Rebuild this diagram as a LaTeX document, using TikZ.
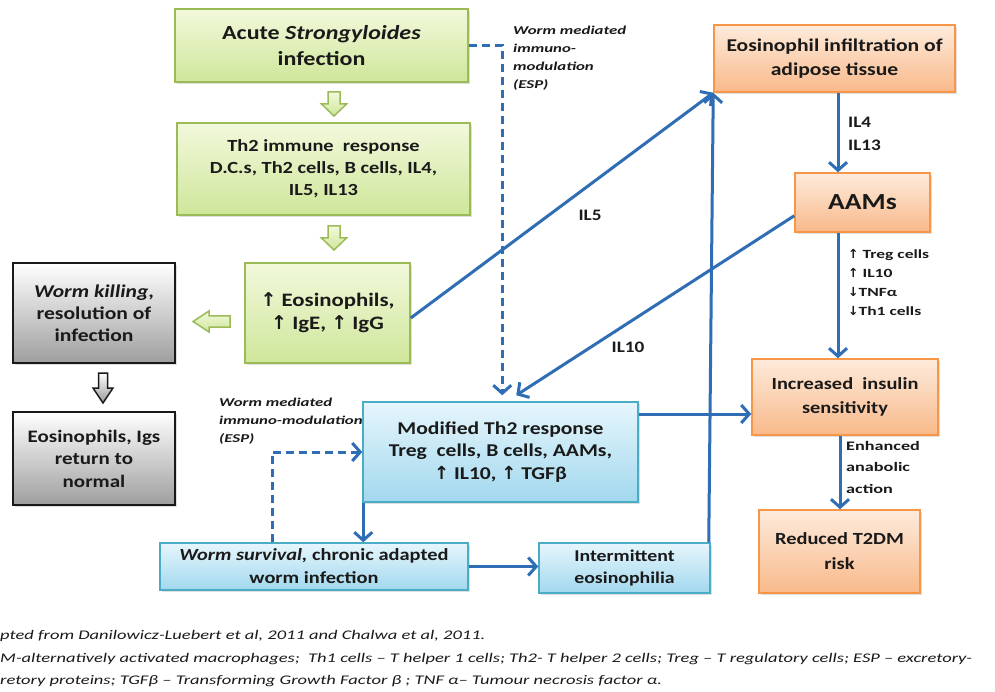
\documentclass[tikz,border=0pt]{standalone}
\usepackage{fontspec}
\setmainfont{Carlito}[FakeStretch=1.2]
\newfontfamily\lblfont{Carlito}[FakeStretch=1.4]
\newfontfamily\symfont{DejaVu Sans}
\usetikzlibrary{arrows.meta,shadows,calc}
\definecolor{gline}{HTML}{9BBB59}
\definecolor{gtop}{HTML}{F2F9DC}
\definecolor{gbot}{HTML}{CFE69A}
\definecolor{bline}{HTML}{4BACC6}
\definecolor{btop}{HTML}{E6F6FC}
\definecolor{bbot}{HTML}{A2D8EE}
\definecolor{oline}{HTML}{F79646}
\definecolor{otop}{HTML}{FDEBDC}
\definecolor{obot}{HTML}{F9B98A}
\definecolor{arrblue}{HTML}{2F6DB5}
\definecolor{txt}{HTML}{1A1A1A}
\newcommand{\uarr}{{\symfont\char"2191}}
\newcommand{\darr}{{\symfont\char"2193}}
\tikzset{
  boxbase/.style={rectangle, align=center, text=txt, inner sep=2pt, font=\bfseries,
     drop shadow={opacity=0.25, shadow xshift=2pt, shadow yshift=-2pt}},
  greenbox/.style={boxbase, draw=gline, line width=1.5pt, top color=gtop, bottom color=gbot},
  graybox/.style={boxbase, draw=black!90, line width=2.5pt, top color=white, bottom color=black!38},
  bluebox/.style={boxbase, draw=bline, line width=1.5pt, top color=btop, bottom color=bbot},
  orangebox/.style={boxbase, draw=oline, line width=1.5pt, top color=otop, bottom color=obot},
  arr/.style={draw=arrblue, line width=3pt, -{Straight Barb[length=8pt,width=18pt]}},
  dasharr/.style={arr, dash pattern=on 8pt off 5pt},
  greenblock/.style={draw=gline, line width=1.5pt, top color=gtop, bottom color=gbot, line join=miter},
  grayblock/.style={draw=black!90, line width=1.5pt, top color=white, bottom color=black!40, line join=miter},
  lbl/.style={text=txt, font=\bfseries\fontsize{16}{20}\selectfont, inner sep=0pt},
  small/.style={text=txt, align=left, inner sep=0pt},
}
\begin{document}
\begin{tikzpicture}[x=1pt,y=-1pt]
\useasboundingbox (0,0) rectangle (995,692);
\fill[white] (0,0) rectangle (995,692);

% green boxes
\node[greenbox, minimum width=293pt, minimum height=73pt, font=\bfseries\fontsize{20}{26}\selectfont] (acute) at (321.5,45.5) {Acute \textit{Strongyloides}\\infection};
\node[greenbox, minimum width=293pt, minimum height=92pt, font=\bfseries\fontsize{17}{22}\selectfont] (th2) at (323.5,169) {Th2 immune\ \ response\\D.C.s, Th2 cells, B cells, IL4,\\IL5, IL13};
\node[greenbox, minimum width=165pt, minimum height=100pt, font=\bfseries\fontsize{19}{23}\selectfont] (eos) at (327.5,313) {\uarr{} Eosinophils,\\\uarr{} IgE, \uarr{} IgG};

% gray boxes
\node[graybox, minimum width=162pt, minimum height=100pt, font=\bfseries\fontsize{18}{22}\selectfont] (kill) at (94,313) {\textit{Worm killing},\\resolution of\\infection};
\node[graybox, minimum width=162pt, minimum height=93pt, font=\bfseries\fontsize{17.5}{22.5}\selectfont] (norm) at (94,458.5) {Eosinophils, Igs\\return to\\normal};

% blue boxes
\node[bluebox, minimum width=275pt, minimum height=100pt, font=\bfseries\fontsize{18}{22.5}\selectfont] (mod) at (500.5,452) {Modified Th2 response\\Treg\ \ cells, B cells, AAMs,\\\uarr{} IL10, \uarr{} TGFβ};
\node[bluebox, minimum width=308pt, minimum height=47pt, font=\bfseries\fontsize{17}{23}\selectfont] (surv) at (314,566.5) {\textit{Worm survival,} chronic adapted\\worm infection};
\node[bluebox, minimum width=171pt, minimum height=50pt, font=\bfseries\fontsize{16.5}{22}\selectfont] (inter) at (624.5,568) {Intermittent\\eosinophilia};

% orange boxes
\node[orangebox, minimum width=241pt, minimum height=67pt, font=\bfseries\fontsize{18}{24}\selectfont] (infil) at (834.5,58.5) {Eosinophil infiltration of\\adipose tissue};
\node[orangebox, minimum width=135pt, minimum height=59pt, font=\bfseries\fontsize{23}{26}\selectfont] (aams) at (862.5,202.5) {AAMs};
\node[orangebox, minimum width=186pt, minimum height=76pt, font=\bfseries\fontsize{17}{24}\selectfont] (ins) at (845,397) {Increased\ \ insulin\\sensitivity};
\node[orangebox, minimum width=161pt, minimum height=83pt, font=\bfseries\fontsize{17}{25}\selectfont] (t2dm) at (839.5,551.5) {Reduced T2DM\\risk};

% block arrows (drawn shapes)
\path[greenblock] (328,92) -- (340,92) -- (340,104) -- (346.5,104) -- (334,116) -- (321.5,104) -- (328,104) -- cycle;
\path[greenblock] (328,226) -- (340,226) -- (340,238) -- (346.5,238) -- (334,250) -- (321.5,238) -- (328,238) -- cycle;
\path[greenblock] (230,316) -- (209,316) -- (209,311) -- (193,321.5) -- (209,332) -- (209,327) -- (230,327) -- cycle;
\path[grayblock] (98.5,373) -- (107.5,373) -- (107.5,388) -- (113,388) -- (103,403) -- (93,388) -- (98.5,388) -- cycle;

% helper coordinates
\coordinate (xA) at (838,0);
\coordinate (xD) at (840,0);
\coordinate (xC) at (272,0);
\coordinate (yB) at (0,414);

% connectors
\draw[arr] (infil.south -| xA) -- (aams.north -| xA);
\draw[arr] ($(eos.east)+(0,5)$) -- (infil.south west);
\draw[arr] ($(inter.north east)+(-2,0)$) -- (infil.south west);
\draw[arr] ($(aams.south west)+(0,-17)$) -- ($(mod.north west)+(154,-6)$);
\draw[dasharr] (acute.east) -| ($(mod.north west)+(140,-6)$);
\draw[arr] (mod.east |- yB) -- (ins.west |- yB);
\draw[arr] ($(mod.south west)+(1,0)$) -- ($(surv.north -| mod.south west)+(1,0)$);
\draw[dasharr] (surv.north -| xC) |- (mod.west);
\draw[arr] (surv.east) -- (inter.west |- surv.east);
\draw[arr] (aams.south -| xA) -- (ins.north -| xA);
\draw[arr] (ins.south -| xD) -- (t2dm.north -| xD);

% labels
\node[lbl, anchor=west] (il4) at (848,122) {IL4};
\node[lbl, anchor=west] (il13) at (848,145) {IL13};
\node[lbl] (il5) at (590,215) {IL5};
\node[lbl] (il10) at (628,347) {IL10};
\node[small, anchor=north west, font=\lblfont\bfseries\fontsize{12.5}{19}\selectfont] (treg) at (848,249) {\uarr{} Treg cells\\\uarr{} IL10\\\darr TNFα\\\darr Th1 cells};
\node[small, anchor=north west, font=\lblfont\bfseries\fontsize{13}{21.5}\selectfont] (enh) at (846,441) {Enhanced\\anabolic\\action};
\node[small, anchor=north west, font=\lblfont\bfseries\itshape\fontsize{12}{18}\selectfont] (wm1) at (513,26) {Worm mediated\\immuno-\\modulation\\(ESP)};
\node[small, anchor=north west, font=\lblfont\bfseries\itshape\fontsize{12}{18}\selectfont] (wm2) at (219,398) {Worm mediated\\immuno-modulation\\(ESP)};

% footer
\node[small, anchor=west, font=\lblfont\itshape\fontsize{13.2}{16}\selectfont] (f1) at (0,636) {pted from Danilowicz-Luebert et al, 2011 and Chalwa et al, 2011.};
\node[small, anchor=west, font=\lblfont\itshape\fontsize{13.2}{16}\selectfont] (f2) at (0,659) {M-alternatively activated macrophages;\ \ Th1 cells – T helper 1 cells; Th2- T helper 2 cells; Treg – T regulatory cells; ESP – excretory-};
\node[small, anchor=west, font=\lblfont\itshape\fontsize{13.2}{16}\selectfont] (f3) at (0,681) {retory proteins; TGFβ – Transforming Growth Factor β ; TNF α– Tumour necrosis factor α.};
\end{tikzpicture}
\end{document}
